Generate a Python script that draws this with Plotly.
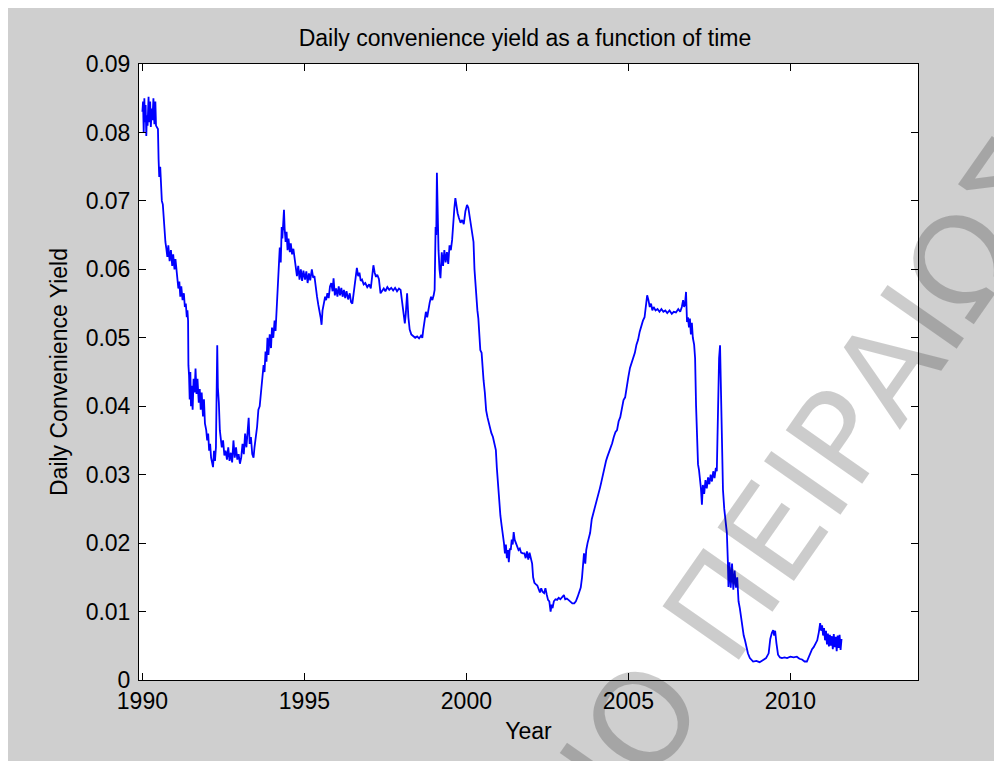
import plotly.graph_objects as go

# ---------------- data ----------------
years = [
    1990.00, 1990.02, 1990.04, 1990.06, 1990.08, 1990.10, 1990.12, 1990.14, 1990.16, 1990.19,
    1990.21, 1990.24, 1990.26, 1990.29, 1990.31, 1990.34, 1990.37, 1990.40, 1990.42, 1990.45,
    1990.48, 1990.50, 1990.52, 1990.55, 1990.57, 1990.60, 1990.63, 1990.66, 1990.69, 1990.71,
    1990.74, 1990.77, 1990.80, 1990.84, 1990.88, 1990.92, 1990.95, 1990.99, 1991.02, 1991.05,
    1991.08, 1991.11, 1991.14, 1991.17, 1991.20, 1991.24, 1991.28, 1991.31, 1991.34, 1991.37,
    1991.39, 1991.41, 1991.42, 1991.44, 1991.46, 1991.48, 1991.50, 1991.52, 1991.55, 1991.58,
    1991.61, 1991.64, 1991.67, 1991.70, 1991.74, 1991.77, 1991.80, 1991.83, 1991.87, 1991.90,
    1991.93, 1991.97, 1992.00, 1992.03, 1992.06, 1992.09, 1992.12, 1992.15, 1992.18, 1992.21,
    1992.24, 1992.27, 1992.29, 1992.31, 1992.33, 1992.36, 1992.39, 1992.42, 1992.45, 1992.49,
    1992.53, 1992.57, 1992.61, 1992.65, 1992.69, 1992.73, 1992.77, 1992.81, 1992.85, 1992.89,
    1992.93, 1992.97, 1993.01, 1993.05, 1993.09, 1993.13, 1993.17, 1993.21, 1993.25, 1993.28,
    1993.31, 1993.35, 1993.39, 1993.43, 1993.46, 1993.50, 1993.54, 1993.58, 1993.62, 1993.66,
    1993.70, 1993.74, 1993.77, 1993.80, 1993.83, 1993.86, 1993.89, 1993.93, 1993.97, 1994.00,
    1994.04, 1994.08, 1994.11, 1994.14, 1994.17, 1994.19, 1994.21, 1994.24, 1994.27, 1994.30,
    1994.32, 1994.35, 1994.37, 1994.39, 1994.42, 1994.45, 1994.48, 1994.51, 1994.55, 1994.58,
    1994.62, 1994.66, 1994.70, 1994.74, 1994.77, 1994.81, 1994.85, 1994.89, 1994.93, 1994.97,
    1995.02, 1995.06, 1995.10, 1995.14, 1995.18, 1995.23, 1995.27, 1995.31, 1995.35, 1995.39,
    1995.43, 1995.47, 1995.50, 1995.53, 1995.56, 1995.60, 1995.64, 1995.67, 1995.71, 1995.75,
    1995.79, 1995.83, 1995.87, 1995.90, 1995.94, 1995.98, 1996.02, 1996.06, 1996.10, 1996.14,
    1996.18, 1996.22, 1996.26, 1996.30, 1996.35, 1996.40, 1996.44, 1996.48, 1996.53, 1996.58,
    1996.62, 1996.66, 1996.70, 1996.74, 1996.78, 1996.83, 1996.88, 1996.94, 1997.00, 1997.05,
    1997.09, 1997.13, 1997.17, 1997.21, 1997.25, 1997.30, 1997.35, 1997.39, 1997.45, 1997.50,
    1997.56, 1997.62, 1997.68, 1997.74, 1997.80, 1997.86, 1997.92, 1997.97, 1998.02, 1998.06,
    1998.10, 1998.13, 1998.17, 1998.21, 1998.25, 1998.30, 1998.36, 1998.42, 1998.48, 1998.54,
    1998.60, 1998.64, 1998.67, 1998.71, 1998.75, 1998.79, 1998.83, 1998.87, 1998.91, 1998.95,
    1998.99, 1999.02, 1999.05, 1999.07, 1999.09, 1999.11, 1999.14, 1999.17, 1999.20, 1999.24,
    1999.28, 1999.32, 1999.36, 1999.40, 1999.44, 1999.48, 1999.52, 1999.56, 1999.60, 1999.63,
    1999.66, 1999.69, 1999.73, 1999.77, 1999.82, 1999.87, 1999.92, 1999.97, 2000.02, 2000.06,
    2000.10, 2000.13, 2000.16, 2000.19, 2000.22, 2000.25, 2000.28, 2000.31, 2000.34, 2000.37,
    2000.40, 2000.43, 2000.47, 2000.50, 2000.53, 2000.57, 2000.61, 2000.65, 2000.69, 2000.73,
    2000.77, 2000.82, 2000.87, 2000.91, 2000.94, 2000.97, 2001.01, 2001.05, 2001.09, 2001.13,
    2001.16, 2001.19, 2001.22, 2001.25, 2001.28, 2001.31, 2001.34, 2001.37, 2001.40, 2001.43,
    2001.46, 2001.49, 2001.53, 2001.57, 2001.61, 2001.65, 2001.69, 2001.74, 2001.79, 2001.83,
    2001.87, 2001.91, 2001.95, 2001.99, 2002.03, 2002.06, 2002.10, 2002.14, 2002.19, 2002.23,
    2002.27, 2002.31, 2002.35, 2002.40, 2002.44, 2002.48, 2002.52, 2002.56, 2002.60, 2002.63,
    2002.66, 2002.70, 2002.75, 2002.80, 2002.85, 2002.90, 2002.96, 2003.01, 2003.05, 2003.10,
    2003.15, 2003.21, 2003.27, 2003.33, 2003.38, 2003.43, 2003.48, 2003.53, 2003.57, 2003.60,
    2003.63, 2003.67, 2003.70, 2003.74, 2003.78, 2003.82, 2003.87, 2003.92, 2003.97, 2004.02,
    2004.07, 2004.12, 2004.16, 2004.21, 2004.26, 2004.31, 2004.35, 2004.40, 2004.45, 2004.50,
    2004.55, 2004.60, 2004.65, 2004.70, 2004.75, 2004.80, 2004.85, 2004.90, 2004.95, 2005.00,
    2005.05, 2005.10, 2005.15, 2005.20, 2005.25, 2005.30, 2005.35, 2005.40, 2005.45, 2005.50,
    2005.55, 2005.58, 2005.62, 2005.66, 2005.70, 2005.74, 2005.78, 2005.84, 2005.90, 2005.96,
    2006.02, 2006.08, 2006.14, 2006.20, 2006.27, 2006.34, 2006.40, 2006.47, 2006.54, 2006.60,
    2006.65, 2006.69, 2006.72, 2006.75, 2006.78, 2006.81, 2006.84, 2006.87, 2006.90, 2006.93,
    2006.96, 2006.99, 2007.03, 2007.06, 2007.09, 2007.12, 2007.15, 2007.18, 2007.21, 2007.24,
    2007.27, 2007.30, 2007.34, 2007.38, 2007.42, 2007.46, 2007.50, 2007.54, 2007.58, 2007.62,
    2007.66, 2007.70, 2007.73, 2007.76, 2007.80, 2007.83, 2007.85, 2007.88, 2007.92, 2007.96,
    2008.00, 2008.04, 2008.07, 2008.09, 2008.12, 2008.16, 2008.20, 2008.24, 2008.28, 2008.32,
    2008.36, 2008.40, 2008.44, 2008.48, 2008.52, 2008.56, 2008.60, 2008.65, 2008.69, 2008.75,
    2008.85, 2008.95, 2009.05, 2009.15, 2009.25, 2009.33, 2009.38, 2009.43, 2009.47, 2009.50,
    2009.53, 2009.57, 2009.62, 2009.68, 2009.74, 2009.82, 2009.90, 2010.00, 2010.10, 2010.20,
    2010.28, 2010.36, 2010.44, 2010.51, 2010.56, 2010.61, 2010.67, 2010.72, 2010.78, 2010.83,
    2010.88, 2010.92, 2010.95, 2010.98, 2011.01, 2011.04, 2011.07, 2011.10, 2011.13, 2011.16,
    2011.19, 2011.22, 2011.25, 2011.28, 2011.31, 2011.34, 2011.37, 2011.40, 2011.43, 2011.46,
    2011.49, 2011.52, 2011.55, 2011.58,
]

convenience_yield = [
    0.0830, 0.0845, 0.0800, 0.0850, 0.0815, 0.0840, 0.0795, 0.0825, 0.0810, 0.0852,
    0.0815, 0.0845, 0.0808, 0.0835, 0.0818, 0.0850, 0.0812, 0.0845, 0.0810, 0.0808,
    0.0805, 0.0760, 0.0735, 0.0750, 0.0730, 0.0700, 0.0695, 0.0670, 0.0650, 0.0640,
    0.0630, 0.0618, 0.0635, 0.0612, 0.0628, 0.0605, 0.0622, 0.0600, 0.0615, 0.0598,
    0.0580, 0.0572, 0.0582, 0.0560, 0.0575, 0.0555, 0.0565, 0.0545, 0.0550, 0.0530,
    0.0540, 0.0525, 0.0460, 0.0445, 0.0410, 0.0450, 0.0400, 0.0430, 0.0395, 0.0440,
    0.0420, 0.0455, 0.0418, 0.0440, 0.0405, 0.0425, 0.0395, 0.0420, 0.0385, 0.0410,
    0.0375, 0.0365, 0.0350, 0.0360, 0.0335, 0.0345, 0.0325, 0.0318, 0.0311, 0.0335,
    0.0320, 0.0340, 0.0405, 0.0489, 0.0427, 0.0405, 0.0365, 0.0355, 0.0340, 0.0350,
    0.0328, 0.0335, 0.0322, 0.0340, 0.0320, 0.0332, 0.0318, 0.0350, 0.0325, 0.0340,
    0.0322, 0.0330, 0.0316, 0.0325, 0.0345, 0.0330, 0.0360, 0.0340, 0.0375, 0.0383,
    0.0345, 0.0355, 0.0330, 0.0325, 0.0340, 0.0355, 0.0370, 0.0395, 0.0400, 0.0420,
    0.0440, 0.0460, 0.0450, 0.0480, 0.0465, 0.0500, 0.0475, 0.0505, 0.0485, 0.0515,
    0.0500, 0.0525, 0.0510, 0.0540, 0.0555, 0.0595, 0.0615, 0.0632, 0.0610, 0.0662,
    0.0645, 0.0672, 0.0687, 0.0660, 0.0640, 0.0655, 0.0628, 0.0645, 0.0625, 0.0638,
    0.0622, 0.0630, 0.0612, 0.0600, 0.0590, 0.0605, 0.0585, 0.0600, 0.0583, 0.0598,
    0.0585, 0.0597, 0.0580, 0.0594, 0.0584, 0.0600, 0.0588, 0.0590, 0.0572, 0.0560,
    0.0548, 0.0540, 0.0530, 0.0519, 0.0540, 0.0550, 0.0560, 0.0555, 0.0565, 0.0558,
    0.0575, 0.0580, 0.0568, 0.0587, 0.0562, 0.0572, 0.0560, 0.0575, 0.0562, 0.0573,
    0.0560, 0.0570, 0.0558, 0.0568, 0.0556, 0.0565, 0.0552, 0.0550, 0.0570, 0.0585,
    0.0602, 0.0590, 0.0595, 0.0583, 0.0585, 0.0578, 0.0580, 0.0574, 0.0578, 0.0572,
    0.0590, 0.0606, 0.0595, 0.0589, 0.0592, 0.0586, 0.0565, 0.0568, 0.0572, 0.0568,
    0.0574, 0.0570, 0.0573, 0.0569, 0.0573, 0.0568, 0.0572, 0.0570, 0.0550, 0.0530,
    0.0521, 0.0535, 0.0565, 0.0530, 0.0512, 0.0505, 0.0502, 0.0500, 0.0502, 0.0499,
    0.0503, 0.0500, 0.0512, 0.0525, 0.0538, 0.0530, 0.0545, 0.0552, 0.0560, 0.0555,
    0.0562, 0.0570, 0.0662, 0.0650, 0.0741, 0.0668, 0.0628, 0.0600, 0.0587, 0.0625,
    0.0605, 0.0628, 0.0610, 0.0625, 0.0608, 0.0635, 0.0628, 0.0643, 0.0677, 0.0690,
    0.0704, 0.0692, 0.0682, 0.0675, 0.0668, 0.0672, 0.0666, 0.0685, 0.0694, 0.0690,
    0.0677, 0.0668, 0.0658, 0.0653, 0.0640, 0.0600, 0.0574, 0.0550, 0.0540, 0.0528,
    0.0500, 0.0482, 0.0478, 0.0450, 0.0438, 0.0420, 0.0394, 0.0384, 0.0375, 0.0370,
    0.0361, 0.0355, 0.0345, 0.0336, 0.0310, 0.0290, 0.0255, 0.0240, 0.0225, 0.0212,
    0.0200, 0.0185, 0.0198, 0.0178, 0.0190, 0.0172, 0.0192, 0.0190, 0.0205, 0.0198,
    0.0216, 0.0205, 0.0200, 0.0194, 0.0190, 0.0192, 0.0186, 0.0185, 0.0185, 0.0178,
    0.0188, 0.0176, 0.0186, 0.0178, 0.0170, 0.0150, 0.0142, 0.0140, 0.0138, 0.0133,
    0.0128, 0.0134, 0.0129, 0.0127, 0.0134, 0.0125, 0.0117, 0.0115, 0.0100, 0.0110,
    0.0105, 0.0115, 0.0118, 0.0117, 0.0120, 0.0118, 0.0121, 0.0124, 0.0118, 0.0119,
    0.0117, 0.0115, 0.0112, 0.0112, 0.0115, 0.0121, 0.0129, 0.0135, 0.0150, 0.0165,
    0.0185, 0.0170, 0.0190, 0.0200, 0.0210, 0.0215, 0.0235, 0.0244, 0.0253, 0.0260,
    0.0267, 0.0280, 0.0288, 0.0300, 0.0307, 0.0320, 0.0326, 0.0332, 0.0340, 0.0346,
    0.0355, 0.0362, 0.0365, 0.0378, 0.0384, 0.0400, 0.0409, 0.0413, 0.0430, 0.0443,
    0.0456, 0.0463, 0.0470, 0.0478, 0.0490, 0.0497, 0.0509, 0.0519, 0.0525, 0.0530,
    0.0550, 0.0562, 0.0555, 0.0545, 0.0550, 0.0540, 0.0545, 0.0540, 0.0542, 0.0538,
    0.0542, 0.0538, 0.0540, 0.0536, 0.0540, 0.0535, 0.0538, 0.0537, 0.0542, 0.0538,
    0.0545, 0.0555, 0.0545, 0.0550, 0.0567, 0.0523, 0.0530, 0.0515, 0.0528, 0.0505,
    0.0522, 0.0500, 0.0490, 0.0470, 0.0400, 0.0332, 0.0315, 0.0307, 0.0295, 0.0280,
    0.0256, 0.0285, 0.0272, 0.0292, 0.0280, 0.0296, 0.0286, 0.0300, 0.0290, 0.0305,
    0.0295, 0.0310, 0.0305, 0.0394, 0.0470, 0.0489, 0.0428, 0.0350, 0.0278, 0.0250,
    0.0230, 0.0215, 0.0175, 0.0136, 0.0172, 0.0135, 0.0170, 0.0132, 0.0160, 0.0135,
    0.0150, 0.0115, 0.0105, 0.0090, 0.0075, 0.0065, 0.0058, 0.0045, 0.0039, 0.0032,
    0.0027, 0.0028, 0.0026, 0.0029, 0.0032, 0.0039, 0.0060, 0.0069, 0.0073, 0.0065,
    0.0072, 0.0054, 0.0037, 0.0033, 0.0032, 0.0033, 0.0032, 0.0034, 0.0033, 0.0034,
    0.0031, 0.0030, 0.0027, 0.0027, 0.0033, 0.0039, 0.0045, 0.0048, 0.0055, 0.0058,
    0.0070, 0.0083, 0.0072, 0.0080, 0.0065, 0.0076, 0.0058, 0.0072, 0.0052, 0.0068,
    0.0049, 0.0066, 0.0050, 0.0064, 0.0045, 0.0067, 0.0048, 0.0063, 0.0042, 0.0065,
    0.0047, 0.0066, 0.0044, 0.0060,
]

x_tick_vals = [1990, 1995, 2000, 2005, 2010]
x_tick_text = ["1990", "1995", "2000", "2005", "2010"]
y_tick_vals = [0, 0.01, 0.02, 0.03, 0.04, 0.05, 0.06, 0.07, 0.08, 0.09]
y_tick_text = ["0", "0.01", "0.02", "0.03", "0.04", "0.05", "0.06", "0.07", "0.08", "0.09"]

title_text = "Daily convenience yield as a function of time"
x_title = "Year"
y_title = "Daily Convenience Yield"
watermark_text = "ΙΟ ΠΕΙΡΑΙΩΣ"

# ---------------- layout geometry ----------------
# The page body has an 8px margin, so the figure is drawn 8px in from the
# top-left corner of the window; page coordinates are converted accordingly.
OFF = 8
W, H = 1002 - OFF, 761 - OFF
L, R, T, B = 139 - OFF, 84, 64 - OFF, 81
PW, PH = W - L - R, H - T - B


def px_x(page_x):
    return (page_x - OFF - L) / PW


def px_y(page_y):
    return (H - B - (page_y - OFF)) / PH


FONT = "Liberation Sans, Arial, Helvetica, sans-serif"
BG = "#cfcfcf"

fig = go.Figure()
fig.add_trace(go.Scatter(
    x=years, y=convenience_yield, mode="lines",
    line=dict(color="#0000ff", width=1.8),
    hoverinfo="skip", showlegend=False,
))

axis_common = dict(
    showline=True, linecolor="#000000", linewidth=1, mirror="ticks",
    ticks="inside", ticklen=7, tickwidth=1, tickcolor="#000000",
    showgrid=False, zeroline=False,
    tickfont=dict(family=FONT, size=23, color="#000000"),
)

fig.update_xaxes(
    range=[1989.895, 2013.94], tickmode="array",
    tickvals=x_tick_vals, ticktext=x_tick_text,
    title=dict(text=x_title, font=dict(family=FONT, size=23, color="#000000"), standoff=10),
    ticklabelstandoff=0,
    **axis_common,
)
fig.update_yaxes(
    range=[0, 0.09], tickmode="array",
    tickvals=y_tick_vals, ticktext=y_tick_text,
    title=dict(text=y_title, font=dict(family=FONT, size=23, color="#000000"), standoff=11),
    ticklabelstandoff=3,
    **axis_common,
)

fig.update_layout(
    width=W, height=H,
    margin=dict(l=L, r=R, t=T, b=B, autoexpand=False),
    paper_bgcolor=BG, plot_bgcolor="#ffffff",
    title=dict(text=title_text, xref="paper", x=px_x(525), xanchor="center",
               y=1 - (38 - OFF) / H, yanchor="middle", yref="container",
               font=dict(family=FONT, size=23, color="#000000")),
    annotations=[
        dict(text=watermark_text, xref="paper", yref="paper",
             x=px_x(814), y=px_y(474), xanchor="center", yanchor="middle",
             textangle=-55, showarrow=False,
             font=dict(family="DejaVu Sans", size=128, color="rgba(0,0,0,0.2)")),
    ],
)

fig.write_html("out.html", config={"displayModeBar": False, "staticPlot": True})
